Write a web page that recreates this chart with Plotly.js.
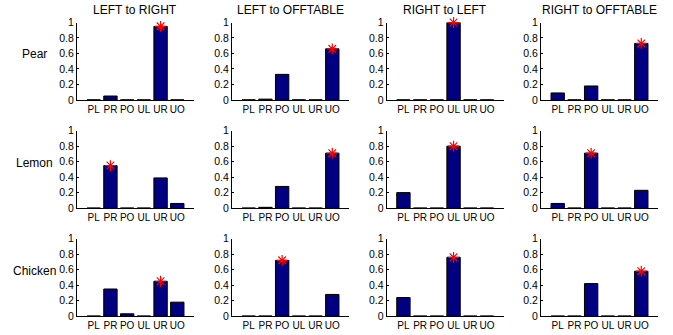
<!DOCTYPE html>
<html>
<head>
<meta charset="utf-8">
<script src="https://cdn.plot.ly/plotly-3.0.1.min.js"></script>
<style>
  html, body { margin: 0; padding: 0; background: #fff; }
  #chart { width: 673px; height: 335px; }
</style>
</head>
<body>
<div id="chart"></div>
<script>
// Action labels shared by every panel
const actions = ['PL', 'PR', 'PO', 'UL', 'UR', 'UO'];
// Panel column titles (transfer tasks) and row labels (objects)
const transfers = ['LEFT to RIGHT', 'LEFT to OFFTABLE', 'RIGHT to LEFT', 'RIGHT to OFFTABLE'];
const objects = ['Pear', 'Lemon', 'Chicken'];

// Probability of each action, one list per transfer task
const pear = [
  [0, 0.05, 0, 0, 0.95, 0],
  [0, 0.01, 0.33, 0, 0, 0.66],
  [0, 0, 0, 1.0, 0, 0],
  [0.09, 0, 0.18, 0, 0, 0.73]
];
const lemon = [
  [0, 0.55, 0, 0, 0.39, 0.06],
  [0, 0.01, 0.28, 0, 0, 0.71],
  [0.20, 0, 0, 0.80, 0, 0],
  [0.06, 0, 0.71, 0, 0, 0.23]
];
const chicken = [
  [0, 0.35, 0.03, 0, 0.45, 0.18],
  [0, 0, 0.72, 0, 0, 0.28],
  [0.24, 0, 0, 0.76, 0, 0],
  [0, 0, 0.42, 0, 0, 0.58]
];
// Correct action for each task (marked with a red star)
const pearTarget = ['UR', 'UO', 'UL', 'UO'];
const lemonTarget = ['PR', 'UO', 'UL', 'PO'];
const chickenTarget = ['UR', 'PO', 'UL', 'UO'];

const values = [pear, lemon, chicken];
const targets = [pearTarget, lemonTarget, chickenTarget];

// Page geometry in pixels
const W = 673, H = 335;
const colLeft = [77, 232, 386.7, 541];
const plotW = 117;
const rowTop = [22.5, 130.7, 238.7];
const plotH = 77.4;

const FONT = 'Liberation Sans, Arial, Helvetica, sans-serif';
const positions = actions.map((_, i) => i + 1);

const traces = [];
const layout = {
  width: W, height: H,
  margin: {l: 0, r: 0, t: 0, b: 0},
  paper_bgcolor: '#ffffff',
  plot_bgcolor: '#ffffff',
  showlegend: false,
  font: {family: FONT, color: '#000000', size: 10},
  annotations: []
};

for (let r = 0; r < objects.length; r++) {
  for (let c = 0; c < transfers.length; c++) {
    const n = r * transfers.length + c + 1;
    const xa = 'x' + (n === 1 ? '' : n);
    const ya = 'y' + (n === 1 ? '' : n);
    const vals = values[r][c];

    traces.push({
      type: 'bar',
      x: positions,
      y: vals,
      xaxis: xa, yaxis: ya,
      width: 0.8,
      marker: {color: '#000080', line: {color: '#000000', width: 1}},
      hoverinfo: 'skip'
    });

    const ti = actions.indexOf(targets[r][c]);
    traces.push({
      type: 'scatter',
      mode: 'markers',
      x: [positions[ti]],
      y: [vals[ti]],
      xaxis: xa, yaxis: ya,
      cliponaxis: false,
      marker: {symbol: 'asterisk-open', size: 9, color: '#ff0000',
               line: {color: '#ff0000', width: 1.2}},
      hoverinfo: 'skip'
    });

    const x0 = colLeft[c] / W, x1 = (colLeft[c] + plotW) / W;
    const y1 = 1 - rowTop[r] / H, y0 = 1 - (rowTop[r] + plotH) / H;

    layout['xaxis' + (n === 1 ? '' : n)] = {
      domain: [x0, x1],
      anchor: ya,
      range: [0, 7],
      tickmode: 'array',
      tickvals: positions,
      ticktext: actions,
      tickangle: 0,
      ticks: '',
      showgrid: false,
      zeroline: false,
      showline: true,
      linecolor: '#000000',
      linewidth: 1,
      tickfont: {family: FONT, size: 10, color: '#000000'},
      fixedrange: true
    };
    layout['yaxis' + (n === 1 ? '' : n)] = {
      domain: [y0, y1],
      anchor: xa,
      range: [0, 1],
      tickmode: 'array',
      tickvals: [0, 0.2, 0.4, 0.6, 0.8, 1],
      ticktext: ['0', '0.2', '0.4', '0.6', '0.8', '1'],
      ticks: 'inside',
      ticklen: 2,
      tickcolor: '#000000',
      showgrid: false,
      zeroline: false,
      showline: true,
      linecolor: '#000000',
      linewidth: 1,
      tickfont: {family: FONT, size: 10.5, color: '#000000'},
      fixedrange: true
    };

    if (r === 0) {
      layout.annotations.push({
        text: transfers[c],
        xref: 'paper', yref: 'paper',
        x: (x0 + x1) / 2, y: 1 - 9.5 / H,
        xanchor: 'center', yanchor: 'middle',
        showarrow: false,
        font: {family: FONT, size: 12, color: '#000000'}
      });
    }
  }
  layout.annotations.push({
    text: objects[r],
    xref: 'paper', yref: 'paper',
    x: 34 / W, y: 1 - (rowTop[r] + 32) / H,
    xanchor: 'center', yanchor: 'middle',
    showarrow: false,
    font: {family: FONT, size: 12, color: '#000000'}
  });
}

Plotly.newPlot('chart', traces, layout, {displayModeBar: false, staticPlot: true});
</script>
</body>
</html>
